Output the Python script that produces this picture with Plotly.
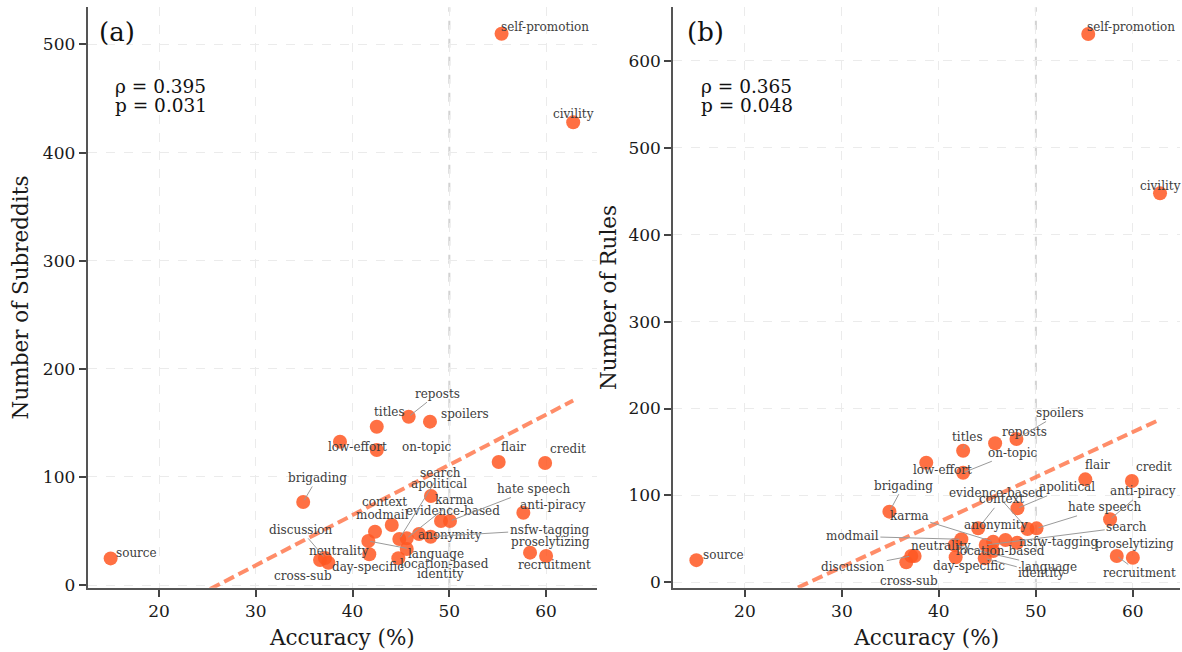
import numpy as np
import plotly.graph_objects as go

# ---------------- data ----------------
categories = ["self-promotion", "civility", "source", "brigading", "low-effort", "titles",
              "on-topic", "reposts", "spoilers", "flair", "credit", "anti-piracy",
              "recruitment", "proselytizing", "cross-sub", "neutrality", "discussion",
              "apolitical", "evidence-based", "hate speech", "context", "modmail",
              "anonymity", "nsfw-tagging", "search", "karma", "language",
              "location-based", "day-specific", "identity"]

accuracy = [55.4, 62.8, 15.0, 34.9, 38.7, 42.5,
            42.5, 45.8, 48.0, 55.1, 59.9, 57.65,
            58.34, 60.0, 36.64, 37.5, 37.15,
            48.1, 49.14, 50.07, 44.05, 42.32,
            46.87, 48.07, 44.83, 45.6, 41.63,
            45.6, 41.73, 44.73]

n_subreddits = [510, 428, 24.6, 76.8, 132.6, 146.4,
                124.9, 155.7, 151.1, 113.8, 112.9, 66.9,
                29.9, 26.8, 23.1, 20.6, 25.0,
                82.3, 59.2, 59.2, 55.5, 49.3,
                47.2, 44.7, 42.6, 43.2, 40.7,
                33.3, 28.4, 24.7]

n_rules = [631, 447.6, 25.5, 81.3, 137.6, 151.4,
           126.1, 160, 164.9, 118.5, 116.6, 72.5,
           30.3, 28.3, 23.0, 30.3, 30.3,
           85.2, 61.3, 62.1, 62.1, 49.5,
           48.7, 45.6, 42.9, 46.7, 42.9,
           36.0, 28.8, 27.6]

stats_a = ("0.395", "0.031")
stats_b = ("0.365", "0.048")
x_ticks = [20, 30, 40, 50, 60]
y_ticks_a = [0, 100, 200, 300, 400, 500]
y_ticks_b = [0, 100, 200, 300, 400, 500, 600]

# ---------------- label placement (pixel offsets, leader line flag) ----------------
offs_a = {
    'self-promotion': (43, -7, False), 'civility': (0, -8, False), 'source': (26, -5, False),
    'reposts': (29, -23, True), 'titles': (13, -15, False), 'spoilers': (35, -8, False),
    'low-effort': (18, 5, False), 'on-topic': (50, -3, False), 'flair': (15, -15, False),
    'credit': (23, -14, False), 'brigading': (14, -24, True), 'search': (41, -66, True),
    'apolitical': (8, -12, False), 'hate speech': (83, -32, True), 'context': (-7, -23, False),
    'karma': (48, -38, True), 'anti-piracy': (30, -8, False), 'modmail': (7, -17, False),
    'evidence-based': (12, -10, False), 'discussion': (-24, -28, True),
    'anonymity': (31, 1, False), 'nsfw-tagging': (119, -7, True),
    'proselytizing': (4, -14, False), 'neutrality': (11, -12, False),
    'language': (68, 13, True), 'cross-sub': (-17, 16, False), 'day-specific': (-1, 13, False),
    'location-based': (38, 15, False), 'identity': (42, 16, False),
    'recruitment': (24, 12, False),
}
offs_b = {
    'self-promotion': (43, -7, False), 'civility': (0, -7, False), 'source': (27, -5, False),
    'spoilers': (44, -26, True), 'reposts': (29, -11, False), 'titles': (4, -14, True),
    'on-topic': (50, -20, True), 'low-effort': (16, 7, False), 'flair': (12, -14, False),
    'credit': (22, -14, False), 'brigading': (14, -26, True), 'evidence-based': (-32, -36, True),
    'apolitical': (50, -21, True), 'context': (23, -29, True), 'anti-piracy': (33, -28, True),
    'hate speech': (68, -21, True), 'karma': (-84, -26, True), 'anonymity': (-10, -15, False),
    'search': (141, -18, True), 'modmail': (-109, -3, True), 'nsfw-tagging': (42, -1, False),
    'proselytizing': (2, -14, False), 'neutrality': (26, -10, False),
    'location-based': (7, 0, False), 'discussion': (-58, 11, True),
    'day-specific': (13, 9, False), 'language': (94, 22, True), 'identity': (57, 15, True),
    'recruitment': (23, 17, True), 'cross-sub': (3, 19, False),
}

FONT = "DejaVu Serif"
W, H = 1182, 652
dot_color = "rgba(255,87,34,0.85)"
fit_color = "rgba(255,112,67,0.8)"
label_color = "#3d3d3d"

fig = go.Figure()

annotations = []
shapes = []

panels = [
    ("x", "y", n_subreddits, offs_a, stats_a, "(a)"),
    ("x2", "y2", n_rules, offs_b, stats_b, "(b)"),
]

for xa, ya, yvals, offs, stats, tag in panels:
    xs = np.array(accuracy)
    ys = np.array(yvals)
    slope, intercept = np.polyfit(xs, ys, 1)
    xf = np.array([xs.min(), xs.max()])
    fig.add_trace(go.Scatter(x=xf, y=slope * xf + intercept, mode="lines",
                             line=dict(color=fit_color, width=4, dash="11px,5px"),
                             xaxis=xa, yaxis=ya, showlegend=False, hoverinfo="skip"))
    fig.add_trace(go.Scatter(x=xs, y=ys, mode="markers",
                             marker=dict(color=dot_color, size=14, line=dict(width=0)),
                             text=categories, xaxis=xa, yaxis=ya, showlegend=False))
    for cat, xv, yv in zip(categories, accuracy, yvals):
        dx, dy, line = offs[cat]
        common = dict(x=xv, y=yv, xref=xa, yref=ya, text=cat,
                      font=dict(family=FONT, size=12, color=label_color),
                      xanchor="center", yanchor="middle")
        if line:
            annotations.append(dict(**common, showarrow=True, ax=dx, ay=dy,
                                    arrowhead=0, arrowwidth=1, arrowcolor="#9a9a9a",
                                    standoff=2, startstandoff=0))
        else:
            annotations.append(dict(**common, showarrow=False, xshift=dx, yshift=-dy))
    # vertical reference line at 50%
    shapes.append(dict(type="line", xref=xa, yref=ya + " domain",
                       x0=50, x1=50, y0=0, y1=1,
                       line=dict(color="#d2d2d2", width=2, dash="dash"), layer="below"))

# panel tags and stats
tag_pos = {"(a)": (97, 113), "(b)": (685, 699)}
for _, _, _, _, stats, tag in panels:
    tx, sx = tag_pos[tag]
    annotations.append(dict(x=tx / W, y=1 - 32 / H, xref="paper", yref="paper", text=tag,
                            showarrow=False, xanchor="left", yanchor="middle",
                            font=dict(family=FONT, size=26, color="#111")))
    annotations.append(dict(x=sx / W, y=1 - 86 / H, xref="paper", yref="paper",
                            text="ρ = " + stats[0], showarrow=False, xanchor="left",
                            yanchor="middle", font=dict(family=FONT, size=18.5, color="#111")))
    annotations.append(dict(x=sx / W, y=1 - 106 / H, xref="paper", yref="paper",
                            text="p = " + stats[1], showarrow=False, xanchor="left",
                            yanchor="middle", font=dict(family=FONT, size=18.5, color="#111")))

ydom = [(H - 587.7) / H, (H - 7.3) / H]
axis_common = dict(showline=True, linecolor="#555", linewidth=2, mirror=False,
                   ticks="outside", ticklen=7, tickwidth=1.5, tickcolor="#444",
                   showgrid=True, gridcolor="#ebebeb", gridwidth=1, griddash="dash",
                   zeroline=False, automargin=False,
                   tickfont=dict(family=FONT, size=17, color="#1a1a1a"))
title_font = dict(family=FONT, size=21.5, color="#1a1a1a")

fig.update_layout(
    width=W, height=H, margin=dict(l=0, r=0, t=0, b=0),
    paper_bgcolor="white", plot_bgcolor="white",
    showlegend=False,
    xaxis=dict(**axis_common, domain=[87.7 / W, 597 / W], range=[12.63, 65.26],
               tickvals=x_ticks, anchor="y",
               title=dict(text="Accuracy (%)", font=title_font, standoff=10)),
    yaxis=dict(**axis_common, domain=ydom, range=[-2.5, 534.4], tickvals=y_ticks_a,
               anchor="x",
               title=dict(text="Number of Subreddits", font=title_font, standoff=8)),
    xaxis2=dict(**axis_common, domain=[673.3 / W, 1180 / W], range=[12.62, 64.86],
                tickvals=x_ticks, anchor="y2",
                title=dict(text="Accuracy (%)", font=title_font, standoff=10)),
    yaxis2=dict(**axis_common, domain=ydom, range=[-6.2, 661.7], tickvals=y_ticks_b,
                anchor="x2",
                title=dict(text="Number of Rules", font=title_font, standoff=6)),
    annotations=annotations,
    shapes=shapes,
)

fig.write_html("out.html", config={"displayModeBar": False},
               post_script="document.body.style.margin='0';document.body.style.overflow='hidden';")
